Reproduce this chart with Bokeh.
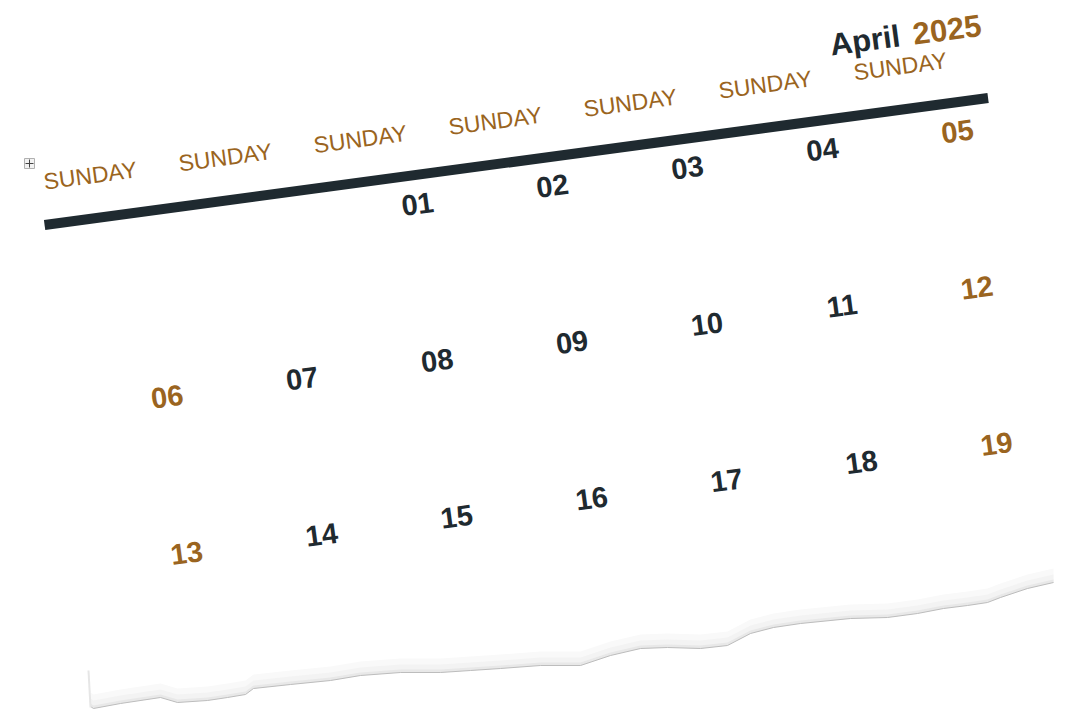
import numpy as np
from bokeh.plotting import figure
from bokeh.models import Range1d, ColumnDataSource
from bokeh.core.properties import value
from bokeh.embed import file_html
from bokeh.resources import INLINE

# ---------------- data ----------------
month_label = "April"
year_label = "2025"
weekday_labels = ["SUNDAY", "SUNDAY", "SUNDAY", "SUNDAY", "SUNDAY", "SUNDAY", "SUNDAY"]
days = list(range(1, 20))          # days shown on the sheet
first_col = 2                      # column of day 01
weekend_cols = [0, 6]

# torn paper edge (decoration, screen px)
torn_x = [90, 93, 120, 160, 177, 207, 227, 245, 253, 290, 330, 360, 400, 440, 470, 500,
          540, 580, 610, 640, 667, 700, 727, 750, 773, 800, 850, 887, 917, 943, 967, 987,
          1000, 1027, 1053]
torn_y = [706, 708, 703, 697, 702, 700, 697, 694, 688, 684, 680, 675, 672, 672, 670, 668,
          665, 665, 655, 648, 647, 648, 645, 633, 627, 623, 618, 617, 613, 608, 605, 602,
          597, 588, 582]

BROWN = "#9a6420"
DARK = "#1f2a30"
FONT = "Liberation Sans"

W, H = 1064, 711
p = figure(width=W, height=H, x_range=Range1d(0, W), y_range=Range1d(-H, 0),
           output_backend="svg", toolbar_location=None, min_border=0)
p.axis.visible = False
p.grid.visible = False
p.outline_line_color = None
p.background_fill_color = "white"
p.border_fill_color = "white"

theta = np.deg2rad(7.67)
c, s = np.cos(theta), np.sin(theta)
ox, oy = 147.0, 239.4
COLW, ROWH = 136.2, 157.5
ROW_SHIFT = -1.5   # slight horizontal drift per row on the sheet


def to_plot(a, b):
    a = np.asarray(a, float)
    b = np.asarray(b, float)
    x = ox + a * c + b * s
    y = oy - a * s + b * c
    return x, -y


# ---------------- torn paper ----------------
tx = np.array(torn_x, float)
ty = np.array(torn_y, float)
for off, col in [(14, "#f9f9f9"), (8, "#f3f3f3"), (3, "#e8e8e8")]:
    px = np.concatenate([tx, tx[::-1]])
    py = np.concatenate([ty, (ty - off)[::-1]])
    p.patch(px, -py, fill_color=col, line_color=None)
p.line(tx, -ty, line_color="#bdbdbd", line_width=1)
p.line([88, 90], [-670, -707], line_color="#e6e6e6", line_width=2)

# ---------------- header line ----------------
lx, ly = to_plot([-100, 852], [-28.5, -28.5])
p.line(lx, ly, line_color=DARK, line_width=10, line_cap="butt")

# ---------------- weekday headers ----------------
hcols = np.arange(len(weekday_labels))
hx, hy = to_plot(-48 + hcols * COLW, np.full(len(hcols), -71.5))
p.text(hx, hy, text=weekday_labels, angle=theta, text_align="center",
       text_baseline="alphabetic", text_font=value(FONT), text_font_size="23px",
       text_color=BROWN)

# ---------------- days ----------------
idx = np.array(days) - 1 + first_col
cols = idx % 7
rows = idx // 7
dx, dy = to_plot(cols * COLW + rows * ROW_SHIFT, rows * ROWH + 0.5)
dcolors = [BROWN if cc in weekend_cols else DARK for cc in cols]
src = ColumnDataSource(dict(x=dx, y=dy, t=[f"{d:02d}" for d in days], c=dcolors))
p.text("x", "y", text="t", source=src, angle=theta, text_align="center",
       text_baseline="alphabetic", text_font=value(FONT), text_font_size="29px",
       text_font_style="bold", text_color="c")

# ---------------- title ----------------
yx, yy = to_plot([855], [-102])
p.text(yx, yy, text=[year_label], angle=theta, text_align="right",
       text_baseline="alphabetic", text_font=value(FONT), text_font_size="31px",
       text_font_style="bold", text_color=BROWN)
mx, my = to_plot([773], [-102])
p.text(mx, my, text=[month_label], angle=theta, text_align="right",
       text_baseline="alphabetic", text_font=value(FONT), text_font_size="31px",
       text_font_style="bold", text_color=DARK)

# ---------------- table handle icon ----------------
p.rect([29], [-163], width=10, height=10, fill_color="#f2f2f2", line_color="#b0b0b0", line_width=1)
p.scatter([29], [-163], marker="cross", size=8, line_color="#444444", line_width=1)

open("out.html", "w").write(file_html(p, INLINE))
